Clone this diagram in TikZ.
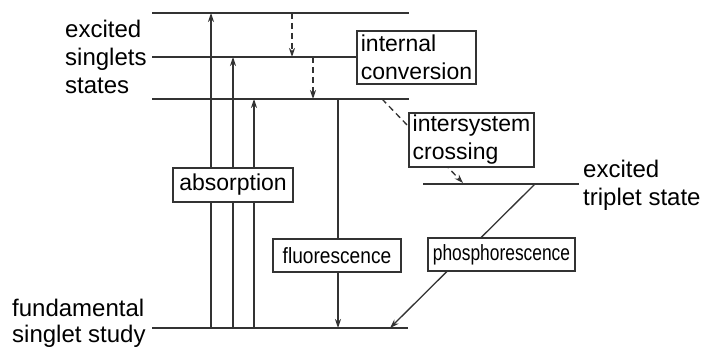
\documentclass[tikz,border=0pt]{standalone}
\usepackage{fontspec}
\setmainfont{Liberation Sans}
\newfontfamily\flfont[FakeStretch=0.87]{Liberation Sans}
\newfontfamily\phfont[FakeStretch=0.79]{Liberation Sans}
\usetikzlibrary{arrows.meta}
\definecolor{ink}{HTML}{333333}
\begin{document}
\begin{tikzpicture}[x=1pt,y=-1pt,
  lvl/.style={draw=ink, line width=1.4pt},
  arr/.style={draw=ink, line width=1.3pt, -{Stealth[length=9pt,width=6pt]}},
  dsh/.style={arr, dash pattern=on 6pt off 4pt},
  box/.style={draw=ink, line width=1.2pt, fill=white, inner sep=0pt, align=left, font=\fontsize{23}{28}\selectfont},
  flbox/.style={box, font=\flfont\fontsize{22}{26}\selectfont},
  phbox/.style={box, font=\phfont\fontsize{22}{26}\selectfont},
  lbl/.style={inner sep=0pt, align=left, anchor=north west, font=\fontsize{24}{28}\selectfont}]
\useasboundingbox (0,0) rectangle (705,347);
% level end points
\coordinate (s2l) at (152,13);  \coordinate (s2r) at (409,13);
\coordinate (s1l) at (152,57);  \coordinate (s1r) at (357,57);
\coordinate (s0l) at (152,99);  \coordinate (s0r) at (409,99);
\coordinate (tl)  at (423,184); \coordinate (tr)  at (579,184);
\coordinate (gl)  at (152,328); \coordinate (gr)  at (408,328);
\draw[lvl] (s2l) -- (s2r);
\draw[lvl] (s1l) -- (s1r);
\draw[lvl] (s0l) -- (s0r);
\draw[lvl] (tl) -- (tr);
\draw[lvl] (gl) -- (gr);
% absorption arrows
\coordinate (a1b) at (211,328); \coordinate (a1t) at (211,13);
\coordinate (a2b) at (233,328); \coordinate (a2t) at (233,57);
\coordinate (a3b) at (254,328); \coordinate (a3t) at (254,99);
\draw[arr] (a1b) -- (a1t);
\draw[arr] (a2b) -- (a2t);
\draw[arr] (a3b) -- (a3t);
% internal conversion
\coordinate (ic1a) at (292,13); \coordinate (ic1b) at (292,57);
\coordinate (ic2a) at (313,57); \coordinate (ic2b) at (313,99);
\draw[dsh] (ic1a) -- (ic1b);
\draw[dsh] (ic2a) -- (ic2b);
% intersystem crossing
\coordinate (isa) at (382,99); \coordinate (isb) at (463,183);
\draw[dsh] (isa) -- (isb);
% fluorescence
\coordinate (fa) at (338,99); \coordinate (fb) at (338,328);
\draw[arr] (fa) -- (fb);
% phosphorescence
\coordinate (pa) at (535,184); \coordinate (pb) at (390,328);
\draw[arr] (pa) -- (pb);
% boxes
\node[box, minimum width=120pt, minimum height=34pt] (abs) at (233,185) {absorption};
\node[box, minimum width=119pt, minimum height=53pt] (ic) at (416.5,57.5) {internal\\conversion};
\node[box, minimum width=125pt, minimum height=54pt] (isc) at (471.5,140) {intersystem\\crossing};
\node[flbox, minimum width=128pt, minimum height=33pt] (fl) at (337,255.5) {fluorescence};
\node[phbox, minimum width=147pt, minimum height=33pt] (ph) at (501.5,254.5) {phosphorescence};
% labels
\node[lbl] (ess) at (65,20) {excited\\singlets\\states};
\node[lbl, font=\fontsize{24}{26}\selectfont] (fss) at (12,299) {fundamental\\singlet study};
\node[lbl] (ets) at (583,160) {excited\\triplet state};
\end{tikzpicture}
\end{document}
